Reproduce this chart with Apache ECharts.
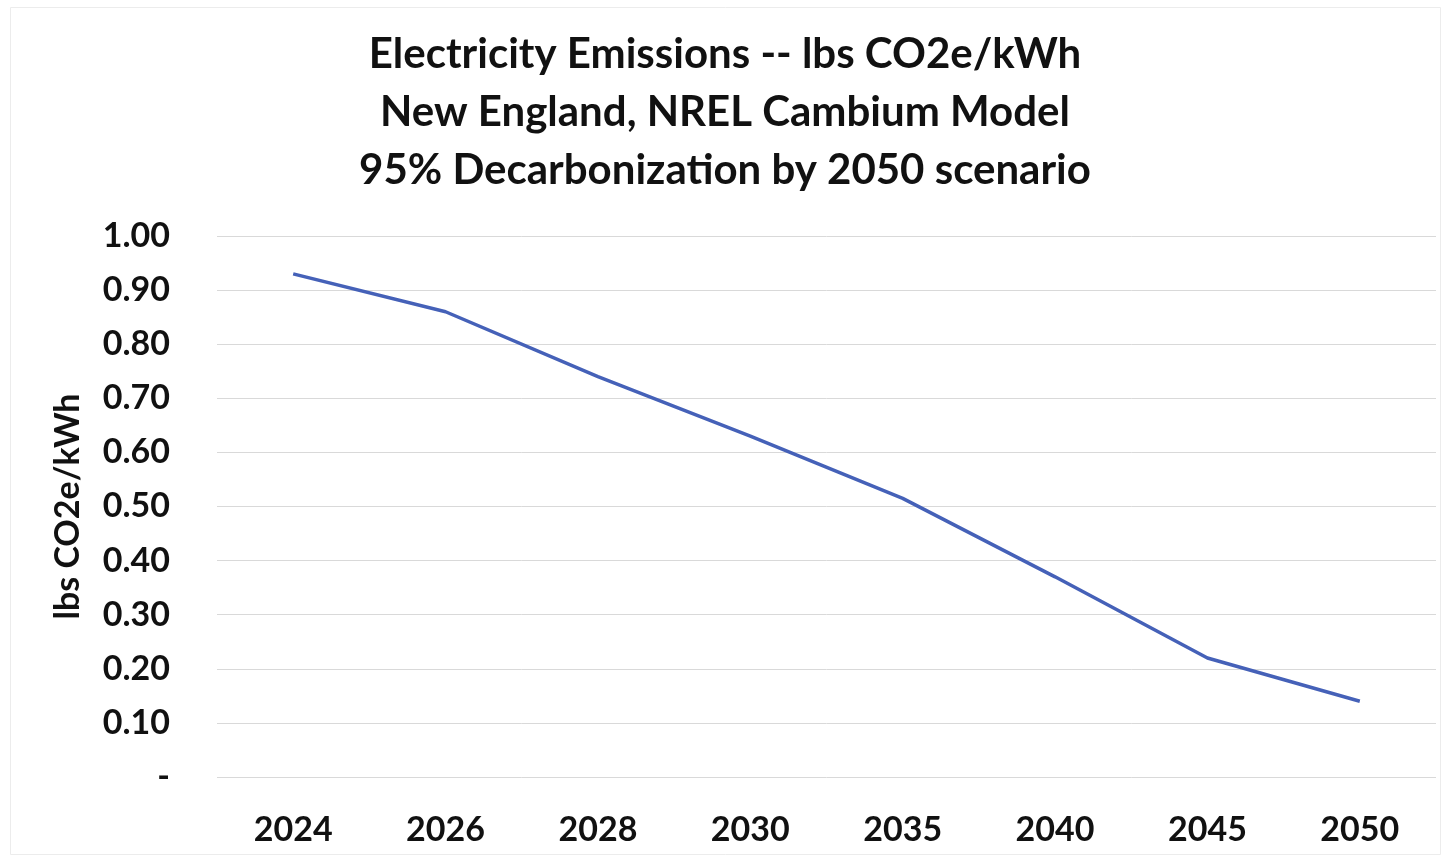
<!DOCTYPE html>
<html>
<head>
<meta charset="utf-8">
<style>
  html, body { margin: 0; padding: 0; background: #ffffff; }
  #chart { width: 1450px; height: 862px; }
</style>
<script src="https://cdn.jsdelivr.net/npm/echarts@6/dist/echarts.min.js"></script>
</head>
<body>
<div id="chart"></div>
<script>
// Emission factors, lbs CO2e per kWh, by projection year
const years = ['2024', '2026', '2028', '2030', '2035', '2040', '2045', '2050'];
const emissions = [0.93, 0.86, 0.74, 0.63, 0.515, 0.37, 0.22, 0.14];
const titleLines = [
  'Electricity Emissions -- lbs CO2e/kWh',
  'New England, NREL Cambium Model',
  '95% Decarbonization by 2050 scenario'
];
const yAxisTitle = 'lbs CO2e/kWh';

const FONT = 'Lato, "Open Sans", sans-serif';
const chart = echarts.init(document.getElementById('chart'), null, { renderer: 'canvas' });

chart.setOption({
  backgroundColor: '#ffffff',
  animation: false,
  title: {
    text: titleLines.join('\n'),
    left: 'center',
    top: 25,
    padding: [0, 0, 0, 34],
    textStyle: {
      fontFamily: FONT,
      fontWeight: 'bold',
      fontSize: 42,
      lineHeight: 58,
      color: '#111111'
    }
  },
  graphic: [{
    type: 'rect',
    silent: true,
    shape: { x: 10.5, y: 7.5, width: 1430, height: 847 },
    style: { fill: 'none', stroke: '#ececec', lineWidth: 1 }
  }],
  grid: { left: 217, right: 14, top: 236, bottom: 85 },
  xAxis: {
    type: 'category',
    data: years,
    boundaryGap: true,
    axisLine: { show: false },
    axisTick: { show: false },
    axisLabel: {
      margin: 36,
      fontFamily: FONT,
      fontWeight: 'bold',
      fontSize: 34,
      color: '#111111'
    }
  },
  yAxis: {
    type: 'value',
    min: 0,
    max: 1,
    interval: 0.1,
    name: yAxisTitle,
    nameLocation: 'middle',
    nameGap: 132,
    nameRotate: 90,
    nameTextStyle: {
      fontFamily: FONT,
      fontWeight: 'bold',
      fontSize: 34,
      color: '#111111'
    },
    axisLine: { show: false },
    axisTick: { show: false },
    splitLine: { lineStyle: { color: '#d9d9d9', width: 1 } },
    axisLabel: {
      margin: 47,
      fontFamily: FONT,
      fontWeight: 'bold',
      fontSize: 34,
      color: '#111111',
      formatter: v => (Math.abs(v) < 1e-9 ? '-' : v.toFixed(2))
    }
  },
  series: [{
    type: 'line',
    data: emissions,
    showSymbol: false,
    lineStyle: { color: '#4561B8', width: 3.5 },
    itemStyle: { color: '#4561B8' }
  }]
});
</script>
</body>
</html>
